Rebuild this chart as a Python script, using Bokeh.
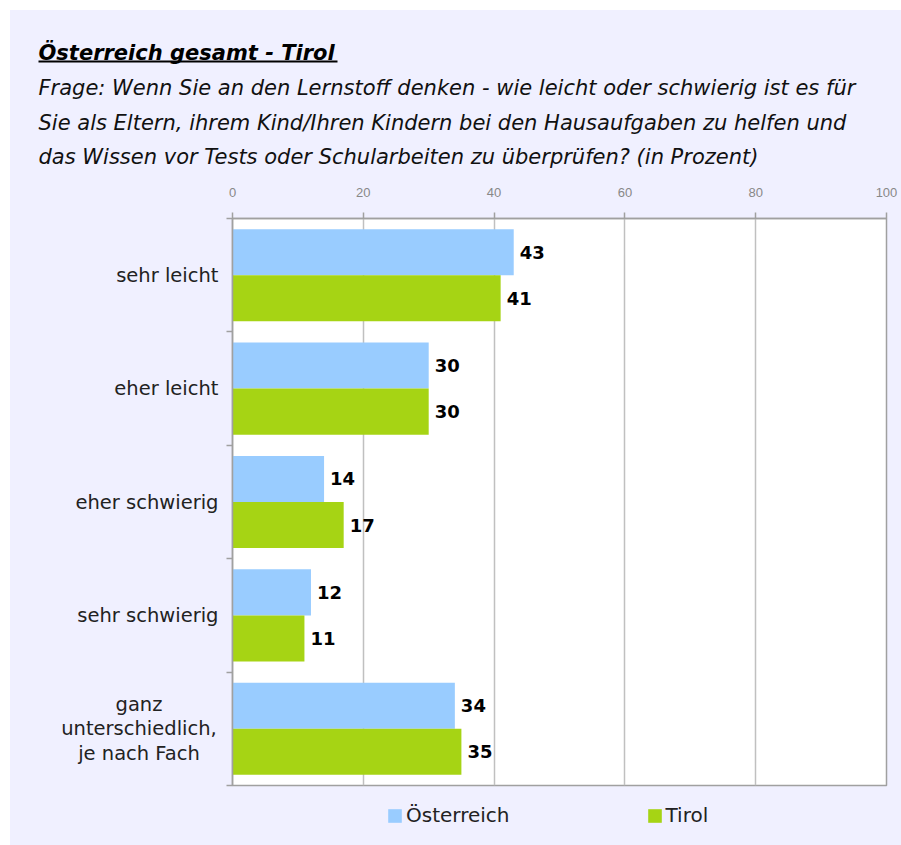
from bokeh.plotting import figure
from bokeh.layouts import column, row
from bokeh.models import (FactorRange, Range1d, LinearAxis, FixedTicker, ColumnDataSource,
                          LabelSet, Legend, LegendItem)
from bokeh.core.properties import value
from bokeh.transform import dodge
from bokeh.embed import file_html
from bokeh.resources import INLINE

# ---------------- data ----------------
categories = ["sehr leicht", "eher leicht", "eher schwierig", "sehr schwierig",
              "ganz unterschiedlich, je nach Fach"]
category_lines = [["sehr leicht"], ["eher leicht"], ["eher schwierig"], ["sehr schwierig"],
                  ["ganz", "unterschiedlich,", "je nach Fach"]]
oesterreich = [43, 30, 14, 12, 34]
tirol = [41, 30, 17, 11, 35]
series_names = ["Österreich", "Tirol"]
x_ticks = [0, 20, 40, 60, 80, 100]

title_text = "Österreich gesamt - Tirol"
subtitle_lines = [
    "Frage: Wenn Sie an den Lernstoff denken - wie leicht oder schwierig ist es für",
    "Sie als Eltern, ihrem Kind/Ihren Kindern bei den Hausaufgaben zu helfen und",
    "das Wissen vor Tests oder Schularbeiten zu überprüfen? (in Prozent)",
]

# ---------------- layout constants ----------------
TOTAL_W, TOTAL_H = 891, 835
HEAD_H = 168
FOOT_H = 58
LAB_W = 212
MAIN_W = TOTAL_W - LAB_W
MAIN_H = TOTAL_H - HEAD_H - FOOT_H
BORDER_L, BORDER_R, BORDER_T, BORDER_B = 10, 15, 40, 2
BG = "#f0f0ff"
BLUE = "#99ccff"
GREEN = "#a6d414"
GRID = "#c0c0c0"
AXIS = "#a0a0a0"
SANS = value("DejaVu Sans")


def bare(fig):
    fig.xgrid.visible = False
    fig.ygrid.visible = False
    fig.outline_line_color = None
    fig.background_fill_color = BG
    fig.border_fill_color = BG


# ---------------- header (title + question) ----------------
head = figure(width=TOTAL_W, height=HEAD_H, output_backend="svg", toolbar_location=None,
              x_range=Range1d(0, TOTAL_W), y_range=Range1d(HEAD_H, 0),
              x_axis_location=None, y_axis_location=None, min_border=0)
bare(head)
head.text(x=[28], y=[42], text=[title_text], text_font=SANS,
          text_font_style="bold italic", text_font_size="21px", text_color="black",
          text_baseline="middle", text_align="left")
head.segment(x0=[28], x1=[327], y0=[51], y1=[51], line_color="black", line_width=2)
head.text(x=[28] * len(subtitle_lines), y=[77.7 + 34.5 * i for i in range(len(subtitle_lines))],
          text=subtitle_lines, text_font=SANS, text_font_style="italic",
          text_font_size="21px", text_color="#111111", text_baseline="middle",
          text_align="left")

# ---------------- main chart ----------------
factors = list(reversed(categories))
yr = FactorRange(factors=factors, range_padding=0)

p = figure(width=MAIN_W, height=MAIN_H, output_backend="svg", toolbar_location=None,
           title=None, x_range=Range1d(0, 100), y_range=yr,
           x_axis_location="above", y_axis_location=None,
           min_border_left=BORDER_L, min_border_right=BORDER_R,
           min_border_top=BORDER_T, min_border_bottom=BORDER_B)
p.border_fill_color = BG
p.background_fill_color = "white"
p.outline_line_color = AXIS
p.outline_line_width = 1.5

xa = p.xaxis[0]
xa.ticker = FixedTicker(ticks=x_ticks)
xa.axis_line_color = AXIS
xa.axis_line_width = 1.5
xa.major_tick_line_color = AXIS
xa.major_tick_line_width = 1.5
xa.major_tick_out = 6
xa.major_tick_in = 0
xa.minor_tick_line_color = None
xa.major_label_text_color = "#888888"
xa.major_label_text_font = "Liberation Sans"
xa.major_label_text_font_size = "13px"
xa.major_label_standoff = 16

p.xgrid.ticker = FixedTicker(ticks=x_ticks)
p.xgrid.grid_line_color = GRID
p.xgrid.grid_line_width = 1.5
p.ygrid.visible = False

# left axis: ticks at category boundaries (synthetic coordinates 0..n)
ya = LinearAxis(ticker=FixedTicker(ticks=list(range(len(categories) + 1))))
ya.major_label_text_font_size = "0px"
ya.major_label_text_alpha = 0
ya.axis_line_color = AXIS
ya.axis_line_width = 1.5
ya.major_tick_line_color = AXIS
ya.major_tick_line_width = 1.5
ya.major_tick_out = 6
ya.major_tick_in = 0
ya.minor_tick_line_color = None
p.add_layout(ya, "left")

src = ColumnDataSource(dict(cat=categories, oe=oesterreich, ti=tirol,
                            oe_txt=[str(v) for v in oesterreich],
                            ti_txt=[str(v) for v in tirol]))
p.hbar(y=dodge("cat", 0.203, range=yr), right="oe", left=0, height=0.406,
       source=src, fill_color=BLUE, line_color=None)
p.hbar(y=dodge("cat", -0.203, range=yr), right="ti", left=0, height=0.406,
       source=src, fill_color=GREEN, line_color=None)

for field, txt, off in [("oe", "oe_txt", 0.203), ("ti", "ti_txt", -0.203)]:
    p.add_layout(LabelSet(x=field, y=dodge("cat", off, range=yr), text=txt, source=src,
                          x_offset=6, text_align="left", text_baseline="middle",
                          text_font=SANS, text_font_style="bold",
                          text_font_size="18px", text_color="black"))

# ---------------- category labels (left strip sharing the y range) ----------------
labs = figure(width=LAB_W, height=MAIN_H, output_backend="svg", toolbar_location=None,
              x_range=Range1d(0, LAB_W), y_range=yr,
              x_axis_location=None, y_axis_location=None,
              min_border_left=0, min_border_right=0,
              min_border_top=BORDER_T, min_border_bottom=BORDER_B)
bare(labs)
lab_cat, lab_txt, lab_x, lab_align, lab_yoff = [], [], [], [], []
LINE_H = 24.5
for cat, lines in zip(categories, category_lines):
    n = len(lines)
    for i, line in enumerate(lines):
        lab_cat.append(cat)
        lab_txt.append(line)
        if n == 1:
            lab_x.append(LAB_W - 4)
            lab_align.append("right")
        else:
            lab_x.append(128.5)
            lab_align.append("center")
        lab_yoff.append((i - (n - 1) / 2) * LINE_H)
cat_src = ColumnDataSource(dict(cat=lab_cat, txt=lab_txt, x=lab_x, align=lab_align, yoff=lab_yoff))
labs.text(x="x", y="cat", text="txt", source=cat_src, y_offset="yoff",
          text_align="align", text_baseline="middle", text_font=SANS,
          text_font_size="19.5px", text_color="#222222")

# ---------------- footer with legend ----------------
foot = figure(width=TOTAL_W, height=FOOT_H, output_backend="svg", toolbar_location=None,
              x_range=Range1d(0, TOTAL_W), y_range=Range1d(0, FOOT_H),
              x_axis_location=None, y_axis_location=None, min_border=0)
bare(foot)
# zero-area bars: only used to give the legend its colour swatches
fb = foot.hbar(y="oe", left=0, right=0, height=0, source=src, fill_color=BLUE, line_color=None)
fg = foot.hbar(y="ti", left=0, right=0, height=0, source=src, fill_color=GREEN, line_color=None)
legend = Legend(items=[LegendItem(label=series_names[0], renderers=[fb]),
                       LegendItem(label=series_names[1], renderers=[fg])],
                orientation="horizontal", location=(376, 18),
                glyph_width=17, glyph_height=17, label_standoff=3, spacing=136,
                padding=0, margin=0, border_line_alpha=0, background_fill_alpha=0,
                label_text_font="DejaVu Sans", label_text_font_size="20px",
                label_text_color="#222222")
foot.add_layout(legend, "center")

mid = row(labs, p, spacing=0)
mid.styles = {"background-color": BG}
layout = column(head, mid, foot, spacing=0, margin=(10, 0, 0, 10))
layout.styles = {"background-color": BG}

open("out.html", "w").write(file_html(layout, INLINE))
